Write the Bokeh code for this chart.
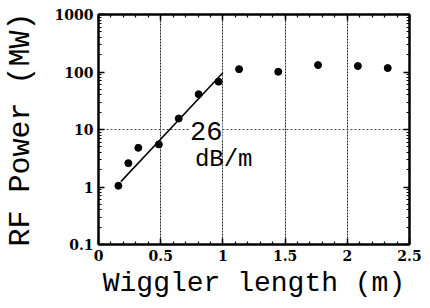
from bokeh.plotting import figure
from bokeh.models import Range1d, FixedTicker, LinearAxis, LogAxis, Label
from bokeh.embed import file_html
from bokeh.resources import INLINE

# data
length_m = [0.16, 0.24, 0.32, 0.485, 0.645, 0.805, 0.965, 1.13, 1.445, 1.765, 2.085, 2.325]
power_mw = [1.05, 2.6, 4.8, 5.5, 15.5, 41, 68, 112, 101, 132, 127, 117]
fit_x = [0.18, 1.0]
fit_y = [1.24, 97]
x_ticks = [0, 0.5, 1, 1.5, 2, 2.5]
x_tick_labels = ["0", "0.5", "1", "1.5", "2", "2.5"]
y_ticks = [0.1, 1, 10, 100, 1000]
y_tick_labels = ["0.1", "1", "10", "100", "1000"]
x_minor = [i / 10 for i in range(26)]
y_minor = [m * d for d in [0.1, 1, 10, 100] for m in range(2, 10)]

p = figure(frame_width=311, frame_height=230, x_range=Range1d(0, 2.5), y_range=Range1d(0.1, 1000),
           y_axis_type="log", output_backend="svg", toolbar_location=None,
           min_border_left=98, min_border_right=13, min_border_top=14, min_border_bottom=56)
p.background_fill_color = "white"
p.border_fill_color = "white"
p.outline_line_color = "black"
p.outline_line_width = 2

bottom = p.below[0]
left = p.left[0]

bottom.ticker = FixedTicker(ticks=x_ticks, minor_ticks=x_minor)
left.ticker = FixedTicker(ticks=y_ticks, minor_ticks=y_minor)
bottom.major_label_overrides = dict(zip(x_ticks, x_tick_labels))
left.major_label_overrides = dict(zip(y_ticks, y_tick_labels))

top = LinearAxis(ticker=FixedTicker(ticks=x_ticks, minor_ticks=x_minor))
right = LogAxis(ticker=FixedTicker(ticks=y_ticks, minor_ticks=y_minor))
top.major_label_overrides = {t: "" for t in x_ticks}
right.major_label_overrides = {t: "" for t in y_ticks}
p.add_layout(top, "above")
p.add_layout(right, "right")

for ax in [bottom, left, top, right]:
    ax.axis_line_width = 2
    ax.axis_line_color = "black"
    ax.major_tick_in = 6
    ax.major_tick_out = 0
    ax.minor_tick_in = 3
    ax.minor_tick_out = 0
    ax.major_tick_line_width = 1.5
    ax.minor_tick_line_width = 1.2
    ax.major_tick_line_color = "black"
    ax.minor_tick_line_color = "black"
    ax.major_label_text_font = "DejaVu Serif"
    ax.major_label_text_font_style = "bold"
    ax.major_label_text_font_size = "14px"
    ax.major_label_text_color = "black"

top.major_label_standoff = 0
right.major_label_standoff = 0
bottom.major_label_standoff = 5
left.major_label_standoff = 5

bottom.axis_label = "Wiggler length (m)"
left.axis_label = "RF Power (MW)"
for ax in [bottom, left]:
    ax.axis_label_text_font = "Liberation Mono"
    ax.axis_label_text_font_style = "normal"
    ax.axis_label_text_color = "black"
bottom.axis_label_text_font_size = "28px"
bottom.axis_label_standoff = 4
left.axis_label_text_font_size = "30px"
left.axis_label_standoff = 14

p.xgrid.ticker = FixedTicker(ticks=[0.5, 1, 1.5, 2])
p.xgrid.grid_line_color = "#222222"
p.xgrid.grid_line_dash = "2 1"
p.xgrid.grid_line_width = 1
p.ygrid.ticker = FixedTicker(ticks=[10])
p.ygrid.grid_line_color = "#444444"
p.ygrid.grid_line_dash = "2 2"
p.ygrid.grid_line_width = 1

p.line(fit_x, fit_y, line_color="black", line_width=1.5)
p.scatter(length_m, power_mw, size=7, marker="circle", fill_color="black", line_color="black")

p.add_layout(Label(x=0.735, y=9.4, text="26", text_font="Liberation Mono", text_font_size="27px",
                   text_baseline="middle", text_align="left", text_color="black",
                   background_fill_color="white"))
p.add_layout(Label(x=0.775, y=3.0, text="dB/m", text_font="Liberation Mono", text_font_size="24px",
                   text_baseline="middle", text_align="left", text_color="black"))

open("out.html", "w").write(file_html(p, INLINE))
